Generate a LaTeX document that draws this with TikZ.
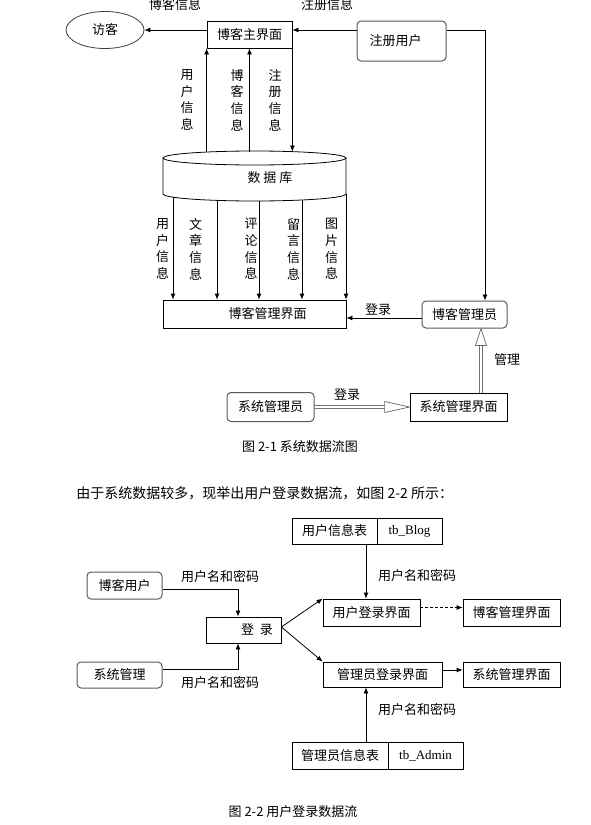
\documentclass[tikz,border=0pt]{standalone}
\usepackage{fontspec}
\setmainfont{Liberation Serif}
\newfontfamily\cjk{Noto Sans CJK SC}
\usetikzlibrary{arrows.meta,shapes.geometric}

\begin{document}
\begin{tikzpicture}[x=1pt,y=-1pt,line width=0.8pt,>={Latex[length=6pt,width=5pt]},
  font=\cjk\fontsize{13}{16.7}\selectfont,
  box/.style={draw,inner sep=0pt},
  rbox/.style={draw=black!65,line width=1pt,rounded corners=4pt,inner sep=0pt},
  vlabel/.style={align=center,inner sep=0pt},
  hollow/.style={draw=black!55,double=white,double distance=2.6pt,line width=0.7pt},
  hhead/.style={draw=black!60,line width=0.7pt,fill=white}]
\useasboundingbox (0,0) rectangle (591,825);
% draw visitor, main page, registered user
\node[draw=black!75,ellipse,minimum width=78,minimum height=37,inner sep=0pt] (visitor) at (105,30) {访客};
\node[box,minimum width=85,minimum height=27] (mainui) at (249.5,34.5) {博客主界面};
\node[rbox,minimum width=89,minimum height=40] (reguser) at (401.5,41) {注册用户\hspace*{12pt}};
\node (lblbloginfo) at (175,5) {博客信息};
\node (lblreginfo) at (327,5) {注册信息};
\draw[->] ([yshift=4.5]mainui.west) -- (visitor.east);
\draw[->] ([yshift=11]reguser.west) -- ([yshift=4.5]mainui.east);
% draw database
\draw (254.5,158) ellipse [x radius=91.5, y radius=7];
\draw (163,158) -- (163,194) arc[start angle=180,end angle=0,x radius=91.5,y radius=7] -- (346,158);
\node (db) at (270,178) {数\hspace{3pt}据\hspace{3pt}库};
\coordinate (dbtop) at (254.5,151.5);
% draw flows between main page and database
\draw[->] (dbtop -| mainui.south west) -- (mainui.south west);
\draw[->] (dbtop -| mainui.south) -- (mainui.south);
\draw[->] (mainui.south east) -- (dbtop -| mainui.south east);
\node[vlabel] (lbluser1) at (187,100) {用\\户\\信\\息};
\node[vlabel] (lblblog1) at (237,100) {博\\客\\信\\息};
\node[vlabel] (lblreg1) at (275,100) {注\\册\\信\\息};
% draw blog management page
\node[box,minimum width=183,minimum height=28] (mgmtui) at (254.5,314) {\hspace*{26pt}博客管理界面};
\foreach \x/\yb in {173/197,217/200,259/201,302/200,346/194}
  \draw[->] (\x,\yb) -- (\x,0 |- mgmtui.north);
\node[vlabel] (lbluser2) at (162.5,249) {用\\户\\信\\息};
\node[vlabel] (lblpost2) at (195.5,249) {文\\章\\信\\息};
\node[vlabel] (lblcomm2) at (251,249) {评\\论\\信\\息};
\node[vlabel] (lblmsg2) at (293.5,249) {留\\言\\信\\息};
\node[vlabel] (lblpic2) at (331.5,249) {图\\片\\信\\息};
% draw blog admin
\node[rbox,minimum width=85,minimum height=27] (blogadmin) at (464.5,314.5) {博客管理员};
\draw[->] ([yshift=11]reguser.east) -| ([xshift=20.5]blogadmin.north);
\draw[->] ([yshift=-3.5]blogadmin.west) -- ([yshift=-4]mgmtui.east);
\node (lbllogin1) at (378,310) {登录};
% draw system admin
\node[box,minimum width=97,minimum height=28] (sysui) at (458.5,407) {系统管理界面};
\node[rbox,minimum width=87,minimum height=29] (sysadmin) at (270.5,407) {系统管理员};
\draw[hollow] (sysadmin.east) -- ([xshift=-24]sysui.west);
\draw[hhead] (sysui.west) -- ++(-25,-5.5) -- ++(0,11) -- cycle;
\node (lbllogin2) at (347,395) {登录};
\coordinate (mtip) at ([xshift=16.5]blogadmin.south);
\draw[hollow] (sysui.north -| mtip) -- ([yshift=-16]mtip);
\draw[hhead] (mtip) -- ++(-5.5,17) -- ++(11,0) -- cycle;
\node (lblmanage) at (507,360) {管理};
\node (cap1) at (300,447) {图 2-1 系统数据流图};
% draw text
\node[anchor=west,inner sep=0pt,font=\cjk\fontsize{14}{16}\selectfont] (intro) at (76,493) {由于系统数据较多，现举出用户登录数据流，如图 2-2 所示：};
% draw login flow
\node[box,minimum width=85,minimum height=26] (utbl) at (334.5,531) {用户信息表};
\node[box,minimum width=65,minimum height=26] (utblid) at (409.5,531) {\rmfamily tb\_Blog};
\node[rbox,minimum width=75,minimum height=27] (bloguser) at (124.5,585.5) {博客用户};
\node[rbox,minimum width=85,minimum height=26] (sysmgr) at (119.5,675) {系统管理};
\node[box,minimum width=75,minimum height=26] (login) at (243.5,630) {\hspace*{27pt}登\hspace{6pt}录};
\draw[->] ([yshift=-3.5]bloguser.east) -| ([xshift=-5.5]login.north);
\draw[->] ([yshift=6]sysmgr.east) -| ([xshift=-5.5]login.south);
\node (lblpwd1) at (220,577) {用户名和密码};
\node (lblpwd2) at (220,683) {用户名和密码};
\node[box,minimum width=97,minimum height=27] (ulogin) at (371.5,612.5) {用户登录界面};
\node[box,minimum width=119,minimum height=25] (alogin) at (382.5,674.5) {管理员登录界面};
\node[box,minimum width=97,minimum height=27] (blogui) at (511.5,612.5) {博客管理界面};
\node[box,minimum width=97,minimum height=25] (sysui2) at (511.5,674.5) {系统管理界面};
\node[box,minimum width=96,minimum height=27] (atbl) at (340,755.5) {管理员信息表};
\node[box,minimum width=75,minimum height=27] (atblid) at (425.5,755.5) {\rmfamily tb\_Admin};
\coordinate (uin) at ([xshift=-5.5]ulogin.north);
\draw[->] (utbl.south -| uin) -- (uin);
\draw[->] ([yshift=3]login.east) -- (ulogin.north west);
\draw[->] ([yshift=3]login.east) -- (alogin.north west);
\draw[->,dash pattern=on 3pt off 2pt] ([yshift=5]ulogin.east) -- ([yshift=5]blogui.west);
\draw[->] ([yshift=4.5]alogin.east) -- ([yshift=4.5]sysui2.west);
\coordinate (ain) at ([xshift=-16.5]alogin.south);
\draw[->] (atbl.north -| ain) -- (ain);
\node (lblpwd3) at (417,576) {用户名和密码};
\node (lblpwd4) at (417,710) {用户名和密码};
\node (cap2) at (293,812) {图 2-2 用户登录数据流};
\end{tikzpicture}
\end{document}
